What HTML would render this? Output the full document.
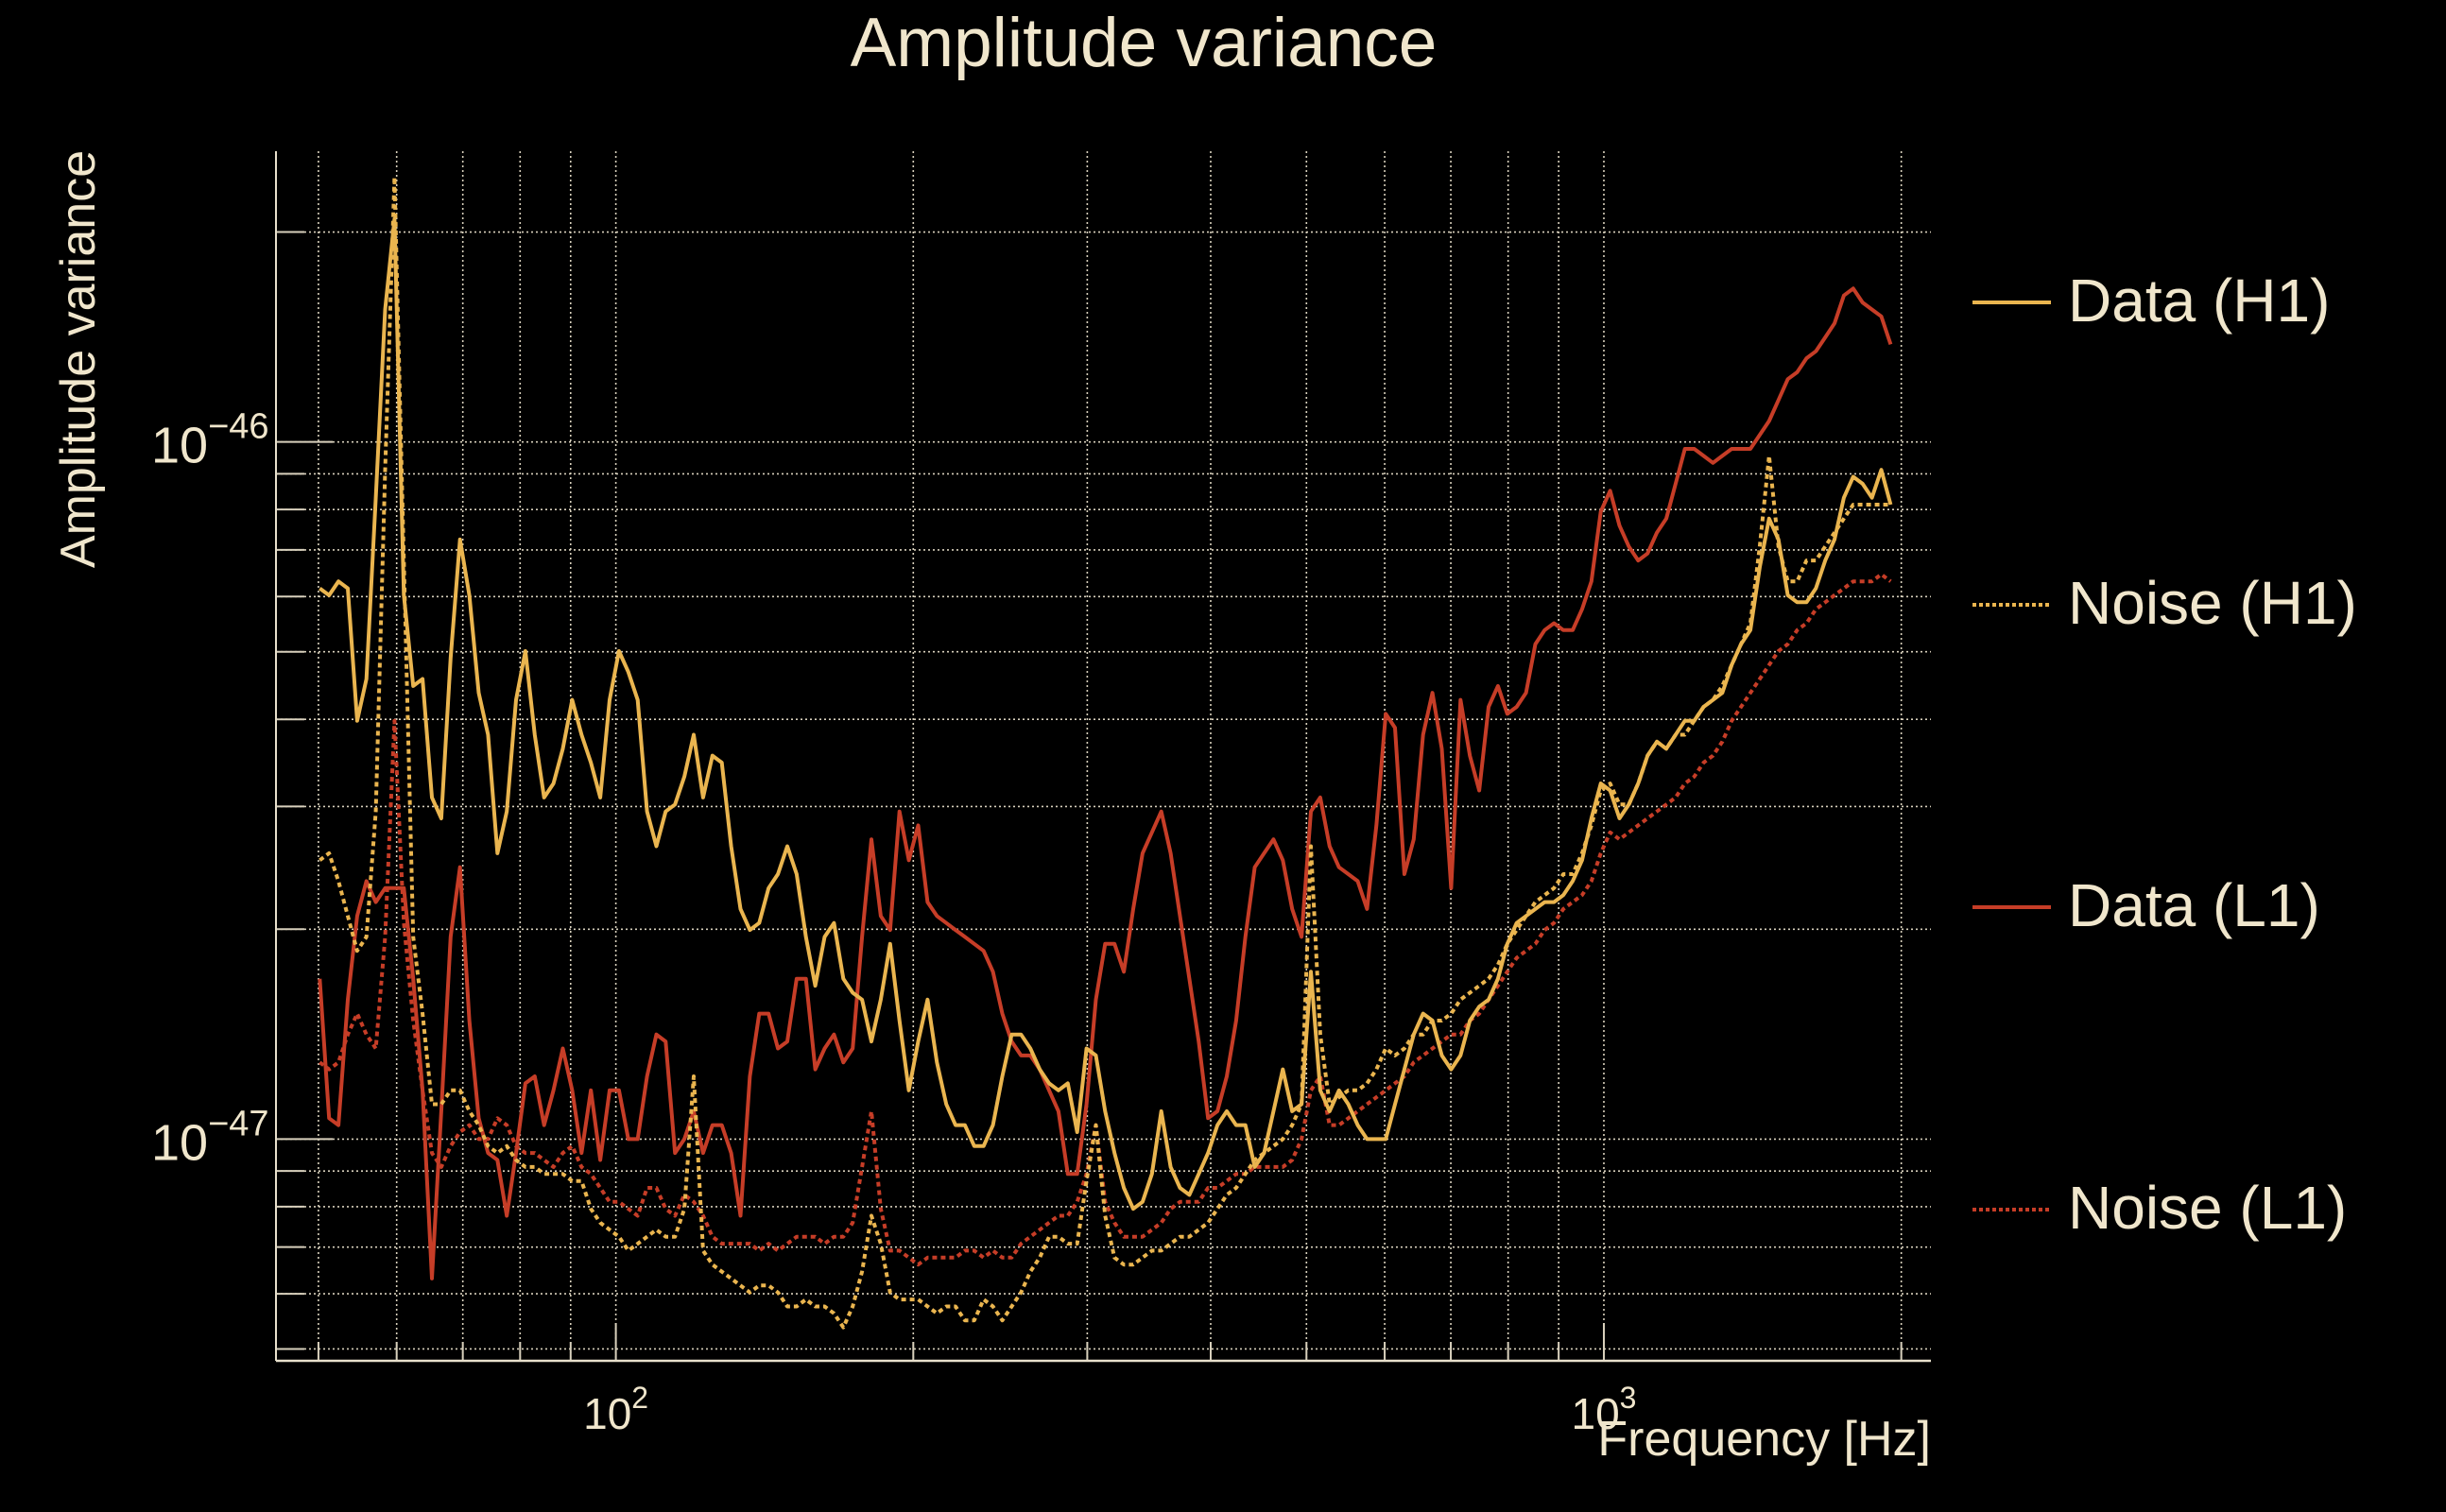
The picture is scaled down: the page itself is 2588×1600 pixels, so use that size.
<!DOCTYPE html>
<html><head><meta charset="utf-8"><style>
html,body{margin:0;padding:0;background:#000;}
svg{display:block;}
text{font-family:"Liberation Sans",sans-serif;fill:#f0e6cc;}
</style></head><body>
<svg id="chart" width="2588" height="1600" viewBox="0 0 2588 1600"></svg>
<script>
// Frequency sampling endpoints (Hz) and log10 amplitude variance readings
const freqStartHz = 50.15;
const freqEndHz = 1951;
const dataH1 = [-46.21,-46.22,-46.20,-46.21,-46.40,-46.34,-46.08,-45.81,-45.68,-46.22,-46.35,-46.34,-46.51,-46.54,-46.31,-46.14,-46.22,-46.36,-46.42,-46.59,-46.53,-46.37,-46.30,-46.42,-46.51,-46.49,-46.44,-46.37,-46.42,-46.46,-46.51,-46.37,-46.30,-46.33,-46.37,-46.53,-46.58,-46.53,-46.52,-46.48,-46.42,-46.51,-46.45,-46.46,-46.58,-46.67,-46.70,-46.69,-46.64,-46.62,-46.58,-46.62,-46.71,-46.78,-46.71,-46.69,-46.77,-46.79,-46.80,-46.86,-46.80,-46.72,-46.83,-46.93,-46.86,-46.80,-46.89,-46.95,-46.98,-46.98,-47.01,-47.01,-46.98,-46.91,-46.85,-46.85,-46.87,-46.90,-46.92,-46.93,-46.92,-46.99,-46.87,-46.88,-46.96,-47.02,-47.07,-47.10,-47.09,-47.05,-46.96,-47.04,-47.07,-47.08,-47.05,-47.02,-46.98,-46.96,-46.98,-46.98,-47.04,-47.02,-46.96,-46.90,-46.96,-46.95,-46.76,-46.93,-46.96,-46.93,-46.95,-46.98,-47.00,-47.00,-47.00,-46.95,-46.90,-46.85,-46.82,-46.83,-46.88,-46.90,-46.88,-46.83,-46.81,-46.80,-46.77,-46.72,-46.69,-46.68,-46.67,-46.66,-46.66,-46.65,-46.63,-46.60,-46.54,-46.49,-46.50,-46.54,-46.52,-46.49,-46.45,-46.43,-46.44,-46.42,-46.40,-46.40,-46.38,-46.37,-46.36,-46.32,-46.29,-46.27,-46.18,-46.11,-46.14,-46.22,-46.23,-46.23,-46.21,-46.17,-46.14,-46.08,-46.05,-46.06,-46.08,-46.04,-46.09];
const noiseH1 = [-46.60,-46.59,-46.63,-46.68,-46.73,-46.71,-46.53,-46.04,-45.62,-46.17,-46.71,-46.82,-46.95,-46.95,-46.93,-46.93,-46.96,-46.98,-47.01,-47.02,-47.01,-47.03,-47.04,-47.04,-47.05,-47.05,-47.05,-47.06,-47.06,-47.10,-47.12,-47.13,-47.14,-47.16,-47.15,-47.14,-47.13,-47.14,-47.14,-47.10,-46.91,-47.16,-47.18,-47.19,-47.20,-47.21,-47.22,-47.21,-47.21,-47.22,-47.24,-47.24,-47.23,-47.24,-47.24,-47.25,-47.27,-47.24,-47.19,-47.11,-47.15,-47.22,-47.23,-47.23,-47.23,-47.24,-47.25,-47.24,-47.24,-47.26,-47.26,-47.23,-47.24,-47.26,-47.24,-47.22,-47.19,-47.17,-47.14,-47.14,-47.15,-47.15,-47.06,-46.98,-47.11,-47.17,-47.18,-47.18,-47.17,-47.16,-47.16,-47.15,-47.14,-47.14,-47.13,-47.12,-47.10,-47.08,-47.07,-47.05,-47.03,-47.02,-47.01,-47.00,-46.98,-46.95,-46.58,-46.85,-46.95,-46.94,-46.93,-46.93,-46.92,-46.90,-46.87,-46.88,-46.87,-46.85,-46.85,-46.83,-46.83,-46.82,-46.80,-46.79,-46.78,-46.77,-46.75,-46.72,-46.70,-46.68,-46.66,-46.65,-46.64,-46.62,-46.62,-46.59,-46.55,-46.50,-46.49,-46.52,-46.52,-46.49,-46.45,-46.43,-46.44,-46.42,-46.42,-46.40,-46.38,-46.37,-46.35,-46.32,-46.29,-46.26,-46.15,-46.02,-46.15,-46.20,-46.20,-46.17,-46.17,-46.15,-46.13,-46.11,-46.09,-46.09,-46.09,-46.09,-46.09];
const dataL1 = [-46.77,-46.97,-46.98,-46.80,-46.68,-46.63,-46.66,-46.64,-46.64,-46.64,-46.77,-46.93,-47.20,-46.96,-46.71,-46.61,-46.83,-46.97,-47.02,-47.03,-47.11,-47.02,-46.92,-46.91,-46.98,-46.93,-46.87,-46.93,-47.02,-46.93,-47.03,-46.93,-46.93,-47.00,-47.00,-46.91,-46.85,-46.86,-47.02,-47.00,-46.96,-47.02,-46.98,-46.98,-47.02,-47.11,-46.91,-46.82,-46.82,-46.87,-46.86,-46.77,-46.77,-46.90,-46.87,-46.85,-46.89,-46.87,-46.71,-46.57,-46.68,-46.70,-46.53,-46.60,-46.55,-46.66,-46.68,-46.69,-46.70,-46.71,-46.72,-46.73,-46.76,-46.82,-46.86,-46.88,-46.88,-46.90,-46.93,-46.96,-47.05,-47.05,-46.95,-46.80,-46.72,-46.72,-46.76,-46.67,-46.59,-46.56,-46.53,-46.59,-46.68,-46.77,-46.86,-46.97,-46.96,-46.91,-46.83,-46.71,-46.61,-46.59,-46.57,-46.60,-46.67,-46.71,-46.53,-46.51,-46.58,-46.61,-46.62,-46.63,-46.67,-46.55,-46.39,-46.41,-46.62,-46.57,-46.42,-46.36,-46.44,-46.64,-46.37,-46.45,-46.50,-46.38,-46.35,-46.39,-46.38,-46.36,-46.29,-46.27,-46.26,-46.27,-46.27,-46.24,-46.20,-46.10,-46.07,-46.12,-46.15,-46.17,-46.16,-46.13,-46.11,-46.06,-46.01,-46.01,-46.02,-46.03,-46.02,-46.01,-46.01,-46.01,-45.99,-45.97,-45.94,-45.91,-45.90,-45.88,-45.87,-45.85,-45.83,-45.79,-45.78,-45.80,-45.81,-45.82,-45.86];
const noiseL1 = [-46.89,-46.90,-46.89,-46.85,-46.82,-46.85,-46.87,-46.71,-46.40,-46.69,-46.83,-46.93,-47.02,-47.04,-47.01,-46.99,-46.98,-47.00,-47.00,-46.97,-46.98,-47.01,-47.02,-47.02,-47.03,-47.04,-47.02,-47.01,-47.04,-47.05,-47.07,-47.09,-47.09,-47.10,-47.11,-47.07,-47.07,-47.10,-47.11,-47.08,-47.09,-47.11,-47.14,-47.15,-47.15,-47.15,-47.15,-47.16,-47.15,-47.16,-47.15,-47.14,-47.14,-47.14,-47.15,-47.14,-47.14,-47.12,-47.04,-46.96,-47.10,-47.16,-47.16,-47.17,-47.18,-47.17,-47.17,-47.17,-47.17,-47.16,-47.16,-47.17,-47.16,-47.17,-47.17,-47.15,-47.14,-47.13,-47.12,-47.11,-47.11,-47.09,-47.05,-46.98,-47.09,-47.12,-47.14,-47.14,-47.14,-47.13,-47.12,-47.10,-47.09,-47.09,-47.09,-47.07,-47.07,-47.06,-47.05,-47.05,-47.04,-47.04,-47.04,-47.04,-47.03,-47.00,-46.93,-46.91,-46.98,-46.98,-46.97,-46.96,-46.95,-46.94,-46.93,-46.92,-46.91,-46.89,-46.88,-46.87,-46.86,-46.85,-46.85,-46.83,-46.82,-46.80,-46.78,-46.76,-46.74,-46.73,-46.72,-46.70,-46.69,-46.67,-46.66,-46.65,-46.63,-46.59,-46.56,-46.57,-46.56,-46.55,-46.54,-46.53,-46.52,-46.51,-46.49,-46.48,-46.46,-46.45,-46.43,-46.40,-46.38,-46.36,-46.34,-46.32,-46.30,-46.29,-46.27,-46.26,-46.24,-46.23,-46.22,-46.21,-46.20,-46.20,-46.20,-46.19,-46.20];
const xMajorTicks = [100, 1000];
const xMajorLabels = ["2", "3"];
const xMinorTicks = [50,60,70,80,90,200,300,400,500,600,700,800,900,2000];
const yMajorTicks = [-46, -47];
const yMajorLabels = ["\u221246", "\u221247"];
const yMinorMantissas = [2,3,4,5,6,7,8,9];

const svg = document.getElementById('chart');
const NS = 'http://www.w3.org/2000/svg';
const L = 292, R = 2043, T = 160, B = 1440;
const xLogMin = 1.656, xLogMax = 3.331;
const yLogMin = -47.318, yLogMax = -45.583;
function xScale(f){ return L + (Math.log10(f) - xLogMin) / (xLogMax - xLogMin) * (R - L); }
function yScale(e){ return B - (e - yLogMin) / (yLogMax - yLogMin) * (B - T); }
function mk(tag, attrs){ const el = document.createElementNS(NS, tag); for (const k in attrs) el.setAttribute(k, attrs[k]); svg.appendChild(el); return el; }

const gridColor = '#d8d0bc';
xMajorTicks.concat(xMinorTicks).forEach(f => {
  const x = xScale(f);
  const g = mk('line', {x1:x, x2:x, y1:T, y2:B, stroke:gridColor, 'stroke-width':1.6, 'stroke-dasharray':'2 3'});
  
  
  const isMajor = xMajorTicks.includes(f);
  const t = mk('line', {x1:x, x2:x, y1:B, y2:B - (isMajor ? 40 : 20), stroke:gridColor, 'stroke-width':2});
  
  
});
const yLines = [];
[-48, -47, -46].forEach(dec => {
  yMinorMantissas.forEach(m => { yLines.push({e: dec + Math.log10(m), major:false}); });
});
yMajorTicks.forEach(e => yLines.push({e, major:true}));
yLines.forEach(o => {
  if (o.e < yLogMin || o.e > yLogMax) return;
  const y = yScale(o.e);
  const g = mk('line', {x1:L, x2:R, y1:y, y2:y, stroke:gridColor, 'stroke-width':1.6, 'stroke-dasharray':'2 3'});
  
  
  const t = mk('line', {x1:L, x2:L + (o.major ? 60 : 30), y1:y, y2:y, stroke:gridColor, 'stroke-width':2});
  
  
});
const sl = mk('line', {x1:L, x2:L, y1:T, y2:B, stroke:'#e8e0cc', 'stroke-width':2});


const sb = mk('line', {x1:L, x2:R, y1:B, y2:B, stroke:'#e8e0cc', 'stroke-width':2.5});



xMajorTicks.forEach((f, i) => {
  const t = mk('text', {x:xScale(f), y:1512, 'font-size':46, 'text-anchor':'middle'});
  
  
  t.innerHTML = '10<tspan dy="-22" font-size="32">' + xMajorLabels[i] + '</tspan>';
});
yMajorTicks.forEach((e, i) => {
  const t = mk('text', {x:160, y:yScale(e) + 22, 'font-size':54});
  
  
  t.innerHTML = '10<tspan dy="-26" font-size="38">' + yMajorLabels[i] + '</tspan>';
});

const N = dataH1.length;
const freqs = [];
for (let i = 0; i < N; i++) freqs.push(freqStartHz * Math.pow(freqEndHz / freqStartHz, i / (N - 1)));
function drawSeries(vals, color, dash, name){
  const d = vals.map((v, i) => (i ? 'L' : 'M') + xScale(freqs[i]).toFixed(1) + ',' + yScale(v).toFixed(1)).join(' ');
  const p = mk('path', {d, fill:'none', stroke:color, 'stroke-width':4, 'stroke-linejoin':'round'});
  if (dash) p.setAttribute('stroke-dasharray', dash);
  
  
}
const yellow = '#eab54f', red = '#c63d27';
drawSeries(noiseL1, red, '5 4', 'noise-l1-line');
drawSeries(dataL1, red, null, 'data-l1-line');
drawSeries(noiseH1, yellow, '5 4', 'noise-h1-line');
drawSeries(dataH1, yellow, null, 'data-h1-line');

const title = mk('text', {x:1210, y:70, 'font-size':73, 'text-anchor':'middle'});


title.textContent = 'Amplitude variance';
const yl = mk('text', {x:0, y:0, 'font-size':52, 'text-anchor':'middle', transform:'translate(100,380) rotate(-90)'});


yl.textContent = 'Amplitude variance';
const xl = mk('text', {x:2043, y:1540, 'font-size':52, 'text-anchor':'end'});


xl.textContent = 'Frequency [Hz]';

const legendLabels = ['Data (H1)', 'Noise (H1)', 'Data (L1)', 'Noise (L1)'];
const legendColors = [yellow, yellow, red, red];
const legendDash = [null, '5 4', null, '5 4'];
const legendNames = ['legend-entry-data-h1', 'legend-entry-noise-h1', 'legend-entry-data-l1', 'legend-entry-noise-l1'];
legendLabels.forEach((lab, i) => {
  const y = 320 + i * 320;
  const ln = mk('line', {x1:2087, x2:2170, y1:y, y2:y, stroke:legendColors[i], 'stroke-width':4});
  if (legendDash[i]) ln.setAttribute('stroke-dasharray', '4 3');
  
  
  const t = mk('text', {x:2188, y:y + 20, 'font-size':64});
  
  
  t.textContent = lab;
});
</script>
</body></html>
